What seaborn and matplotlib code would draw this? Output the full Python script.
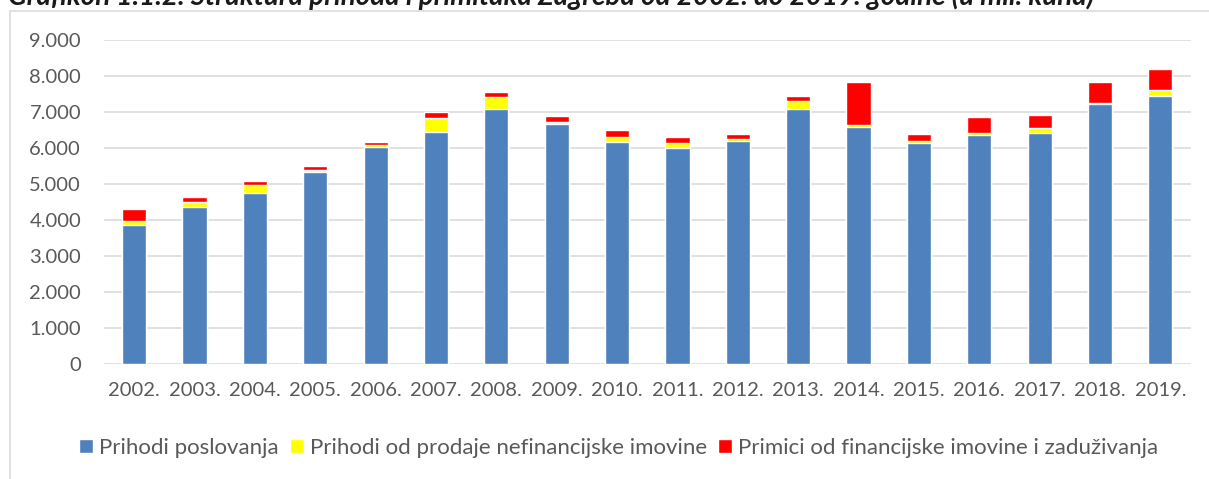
import pandas as pd
import numpy as np
import matplotlib
matplotlib.use("Agg")
import matplotlib.pyplot as plt
import seaborn as sns
from matplotlib.patches import Rectangle
from matplotlib.ticker import FuncFormatter

# podaci (u mil. kuna), ocitano s grafikona
godine = ['2002.', '2003.', '2004.', '2005.', '2006.', '2007.', '2008.', '2009.', '2010.',
          '2011.', '2012.', '2013.', '2014.', '2015.', '2016.', '2017.', '2018.', '2019.']
prihodi_poslovanja = [3860, 4370, 4760, 5325, 6030, 6444, 7090, 6667, 6167,
                      6000, 6186, 7094, 6593, 6148, 6371, 6417, 7213, 7454]
prihodi_nefin = [120, 120, 210, 73, 67, 400, 330, 66, 125,
                 148, 54, 202, 46, 46, 46, 148, 47, 166]
primici_fin = [325, 140, 112, 102, 83, 157, 122, 156, 208,
               167, 158, 158, 1194, 195, 455, 363, 573, 585]

serije = ['Prihodi poslovanja', 'Prihodi od prodaje nefinancijske imovine',
          'Primici od financijske imovine i zaduživanja']
boje = ['#4F81BD', '#FFFF00', '#FF0000']

data = pd.DataFrame({'godina': godine,
                     'plava': prihodi_poslovanja,
                     'zuta': prihodi_nefin,
                     'crvena': primici_fin})
# kumulativne vrijednosti za slaganje stupaca
data['do_zute'] = data['plava'] + data['zuta']
data['ukupno'] = data['do_zute'] + data['crvena']

sns.set_style('white')
plt.rcParams['font.family'] = ['Lato', 'DejaVu Sans']

W, H = 1209, 479
fig = plt.figure(figsize=(W / 100, H / 100), dpi=100)
ax = fig.add_axes([104 / W, 1 - 364 / H, (1190.5 - 104) / W, (364 - 40) / H])

# najvisi prvo, pa nize preko njega
sns.barplot(x='godina', y='ukupno', data=data, color=boje[2], width=0.4,
            saturation=1, label=serije[2], ax=ax)
sns.barplot(x='godina', y='do_zute', data=data, color=boje[1], width=0.4,
            saturation=1, label=serije[1], ax=ax)
sns.barplot(x='godina', y='plava', data=data, color=boje[0], width=0.4,
            saturation=1, label=serije[0], ax=ax)
if ax.get_legend() is not None:
    ax.get_legend().remove()

ax.set_ylim(0, 9000)
ax.set_xlim(-0.5, len(godine) - 0.5)
ax.set_yticks(np.arange(0, 9001, 1000))
ax.yaxis.set_major_formatter(FuncFormatter(lambda v, p: f"{int(v):,}".replace(',', '.')))
ax.set_xlabel('')
ax.set_ylabel('')
ax.set_axisbelow(True)
ax.yaxis.grid(True, color='#D9D9D9', linewidth=1.1)
ax.xaxis.grid(False)
for s in ax.spines.values():
    s.set_visible(False)
ax.tick_params(axis='y', length=0, pad=16.5, labelsize=14.5, labelcolor='#595959')
ax.tick_params(axis='x', length=0, pad=13, labelsize=14.5, labelcolor='#595959')

h, l = ax.get_legend_handles_labels()
h = h[::-1]
l = l[::-1]
leg = fig.legend(h, l, loc='center', bbox_to_anchor=(619 / W, 31 / H), ncol=3,
                 frameon=False, fontsize=16, handlelength=0.6, handleheight=0.6,
                 handletextpad=0.3, columnspacing=0.5, borderpad=0)
for t in leg.get_texts():
    t.set_color('#595959')

# okvir grafikona
fig.add_artist(Rectangle((10 / W, -0.1), 1.2, (H - 11) / H + 0.1, transform=fig.transFigure,
                         fill=False, edgecolor='#D9D9D9', linewidth=1.1))

# naslov, odrezan na vrhu kao na izvorniku
fig.text(8 / W, 1 - 5 / H, 'Grafikon 1.1.2. Struktura prihoda i primitaka Zagreba od 2002. do 2019. godine (u mil. kuna)',
         fontsize=20, style='italic', weight='bold', color='#1a1a1a', ha='left', va='baseline')

fig.savefig('out.png', dpi=100)
